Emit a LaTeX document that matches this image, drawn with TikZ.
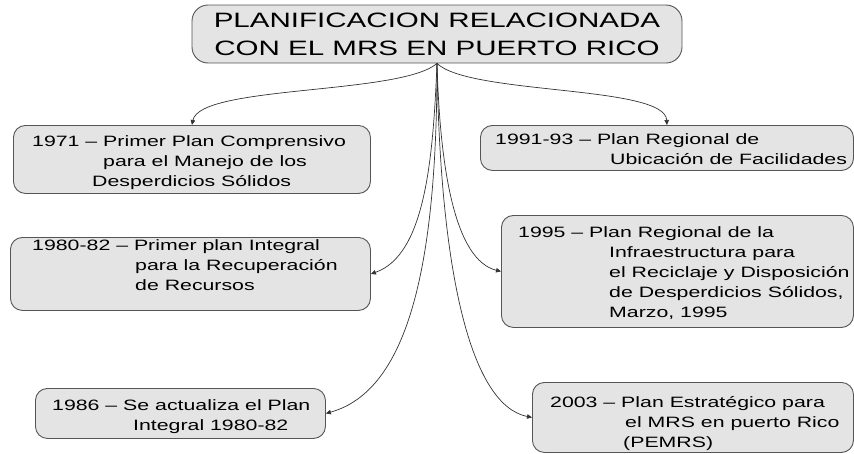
\documentclass[tikz,border=0pt]{standalone}
\usepackage{fontspec}
\setmainfont{Liberation Sans}[FakeStretch=1.42]
\usetikzlibrary{arrows.meta}
\definecolor{boxfill}{HTML}{E4E4E4}
\definecolor{boxline}{HTML}{555555}
\definecolor{wire}{HTML}{333333}

\begin{document}
\begin{tikzpicture}[x=1pt, y=-1pt,
    plan/.style={draw=boxline, fill=boxfill, line width=0.9pt, rounded corners=12pt, anchor=north west, inner sep=0pt},
    txt/.style={anchor=north west, align=left, inner sep=0pt, font=\fontsize{15}{20}\selectfont},
    conn/.style={draw=wire, line width=0.7pt, -{Triangle[length=5pt, width=4.5pt]}}]
  \useasboundingbox (0,0) rectangle (854,453);
  \node[plan, rounded corners=16pt, anchor=center, minimum width=490, minimum height=58, align=center, font=\fontsize{20.8}{28}\selectfont] (title) at (437,34) {PLANIFICACION RELACIONADA\\CON EL MRS EN PUERTO RICO};
  \node[plan, minimum width=357, minimum height=68] (b1971) at (13,125) {};
  \node[plan, minimum width=373, minimum height=45] (b1991) at (480,125) {};
  \node[plan, minimum width=360, minimum height=73] (b1980) at (10,237) {};
  \node[plan, minimum width=352, minimum height=112] (b1995) at (501,215) {};
  \node[plan, minimum width=290, minimum height=50] (b1986) at (35,388) {};
  \node[plan, minimum width=321, minimum height=70] (b2003) at (532,382) {};
  \node[txt] (t1971) at (32,135) {1971 – Primer Plan Comprensivo\\\hspace*{71pt}para el Manejo de los\\\hspace*{60pt}Desperdicios Sólidos};
  \node[txt] (t1991) at (495,133) {1991-93 – Plan Regional de\\\hspace*{115pt}Ubicación de Facilidades};
  \node[txt] (t1980) at (32,239) {1980-82 – Primer plan Integral\\\hspace*{103pt}para la Recuperación\\\hspace*{103pt}de Recursos};
  \node[txt] (t1995) at (518,226) {1995 – Plan Regional de la\\\hspace*{91pt}Infraestructura para\\\hspace*{91pt}el Reciclaje y Disposición\\\hspace*{91pt}de Desperdicios Sólidos,\\\hspace*{91pt}Marzo, 1995};
  \node[txt] (t1986) at (52,399) {1986 – Se actualiza el Plan\\\hspace*{81pt}Integral 1980-82};
  \node[txt] (t2003) at (550,396) {2003 – Plan Estratégico para\\\hspace*{75pt}el MRS en puerto Rico\\\hspace*{73pt}(PEMRS)};
  \draw[conn] (title.south) .. controls (400,95) and (200,85) .. (b1971.north);
  \draw[conn] (title.south) .. controls (470,95) and (665,85) .. (b1991.north);
  \draw[conn] (title.south) .. controls (433,160) and (425,255) .. (b1980.east);
  \draw[conn] (title.south) .. controls (440,170) and (455,260) .. (b1995.west);
  \draw[conn] (title.south) .. controls (437,260) and (410,390) .. (b1986.east);
  \draw[conn] (title.south) .. controls (440,270) and (470,405) .. (b2003.west);
\end{tikzpicture}
\end{document}
